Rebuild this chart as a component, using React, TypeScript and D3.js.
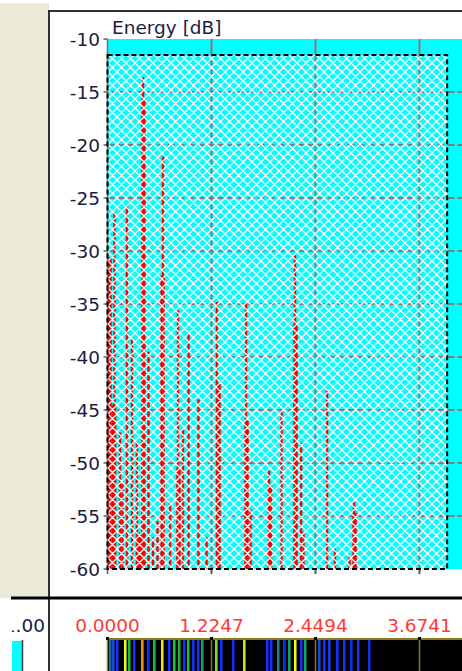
import React from "react";
import * as d3 from "d3";

// axis ticks
const yTickValues = [-10, -15, -20, -25, -30, -35, -40, -45, -50, -55, -60];
const xTickValues = [0, 1.2247, 2.4494, 3.6741];
const xTickLabels = ["0.0000", "1.2247", "2.4494", "3.6741"];

// narrow (tonal) peaks
const tonalFreq = [0.082, 0.147, 0.177, 0.23, 0.289, 0.347, 0.418, 0.483, 0.536, 0.589, 0.654, 0.736, 0.83, 0.889, 0.954, 1.072, 1.166, 1.289, 1.631, 1.684, 1.902, 2.049, 2.208, 2.279, 2.308, 2.585, 2.679, 2.85, 2.903];
const tonalDb = [-26.4, -47.1, -52.0, -25.7, -38.3, -48.0, -13.6, -39.5, -57.0, -55.5, -21.1, -53.7, -35.6, -46.9, -37.7, -44.0, -57.0, -34.8, -34.8, -54.4, -50.7, -45.1, -30.4, -48.1, -56.5, -43.1, -58.1, -58.8, -53.7];

// broad peaks
const broadFreq = [0.024, 0.077, 0.377, 0.424, 0.648, 0.836, 1.307, 1.637, 1.914, 2.214, 2.909];
const broadDb = [-30.6, -44.5, -56.6, -15.6, -32.3, -50.5, -42.5, -46.0, -52.1, -36.9, -54.7];

// spectrogram strip (position, level 0..1)
const specFreq = [0.018, 0.053, 0.1, 0.194, 0.241, 0.3, 0.395, 0.465, 0.536, 0.63, 0.712, 0.771, 0.83, 0.889, 0.936, 0.995, 1.054, 1.101, 1.266, 1.325, 1.466, 1.596, 1.866, 1.913, 1.996, 2.067, 2.126, 2.196, 2.267, 2.314, 2.479, 2.538, 2.597, 2.691, 2.773, 2.856, 2.938, 3.067];
const specLevel = [0.4, 0.35, 0.3, 0.75, 0.55, 0.3, 0.9, 0.3, 0.55, 0.78, 0.3, 0.55, 0.52, 0.3, 0.55, 0.3, 0.3, 0.5, 0.65, 0.3, 0.28, 0.7, 0.3, 0.3, 0.45, 0.3, 0.5, 0.75, 0.3, 0.5, 0.35, 0.3, 0.32, 0.3, 0.3, 0.28, 0.3, 0.28];

export default function App() {
  const W = 462;
  const H = 671;
  const x = d3.scaleLinear().domain([0, 3.6741]).range([107.5, 419.5]);
  const y = d3.scaleLinear().domain([-60, -10]).range([569, 39]);
  const plotLeft = x(0);
  const plotRight = W;
  const plotTop = y(-10);
  const plotBottom = y(-60);
  const hatchRight = x(4.0);
  const hatchTop = y(-11.5);
  const font = "'DejaVu Sans', Tahoma, Verdana, sans-serif";
  const fs = 18.5;
  const specColor = d3
    .scaleLinear<string>()
    .domain([0, 0.3, 0.55, 0.75, 1])
    .range(["#000000", "#1530ff", "#18c040", "#e8ff20", "#ff4a00"]);
  const binW = 0.03;
  const specTop = 640;

  const tonal = tonalFreq.map((f, i) => ({ f, v: tonalDb[i] }));
  const broad = broadFreq.map((f, i) => ({ f, v: broadDb[i] }));
  const spec = specFreq.map((f, i) => ({ f, l: specLevel[i] }));

  return (
    <svg
      width={W}
      height={H}
      style={{ position: "absolute", left: 0, top: 0, display: "block" }}
      fontFamily={font}
    >
      <defs>
        <pattern id="hatch" patternUnits="userSpaceOnUse" width={9} height={9}>
          <path
            d="M0,0 L9,9 M9,0 L0,9 M-2,7 L2,11 M7,-2 L11,2 M-2,2 L2,-2 M7,11 L11,7"
            stroke="#ffffff"
            strokeWidth={1.25}
          />
        </pattern>
        <clipPath id="leftClip">
          <rect x={12} y={600} width={37} height={71} />
        </clipPath>
      </defs>

      <rect x={0} y={0} width={W} height={H} fill="#ffffff" />
      <rect x={0} y={3} width={49} height={595} fill="#ECE9D8" />

      {/* plot background */}
      <rect x={plotLeft} y={plotTop} width={plotRight - plotLeft} height={plotBottom - plotTop} fill="#00FFFF" />

      {/* grid */}
      {yTickValues
        .filter((v) => v !== -10 && v !== -60)
        .map((v) => (
          <line key={"gy" + v} x1={plotLeft} x2={plotRight} y1={y(v)} y2={y(v)} stroke="#808080" strokeWidth={2} strokeDasharray="7,3" />
        ))}
      {xTickValues
        .filter((v) => v !== 0)
        .map((v) => (
          <line key={"gx" + v} x1={x(v)} x2={x(v)} y1={plotTop} y2={plotBottom + 5} stroke="#808080" strokeWidth={2} />
        ))}

      {/* peaks */}
      {broad.map((d, i) => (
        <line key={"b" + i} x1={x(d.f)} x2={x(d.f)} y1={y(-60)} y2={y(d.v)} stroke="#ff0000" strokeWidth={4.5} />
      ))}
      {tonal.map((d, i) => (
        <line key={"t" + i} x1={x(d.f)} x2={x(d.f)} y1={y(-60)} y2={y(d.v)} stroke="#ff0000" strokeWidth={2.4} />
      ))}

      {/* hatch overlay */}
      <rect x={plotLeft} y={hatchTop} width={hatchRight - plotLeft} height={plotBottom - hatchTop} fill="url(#hatch)" />

      {/* y axis */}
      <line x1={plotLeft} x2={plotLeft} y1={plotTop} y2={plotBottom} stroke="#707070" strokeWidth={1.5} />
      {yTickValues.map((v) => (
        <g key={"yt" + v}>
          <line x1={plotLeft - 4} x2={plotLeft} y1={y(v)} y2={y(v)} stroke="#606060" strokeWidth={1.5} />
          <text x={100} y={y(v)} dy="0.36em" textAnchor="end" fontSize={fs} fill="#1c1c3c">
            {v}
          </text>
        </g>
      ))}
      {xTickValues.map((v) => (
        <line key={"xt" + v} x1={x(v)} x2={x(v)} y1={plotBottom} y2={plotBottom + 5} stroke="#606060" strokeWidth={1.5} />
      ))}

      {/* dashed analysis rectangle */}
      <rect
        x={plotLeft}
        y={hatchTop}
        width={hatchRight - plotLeft}
        height={plotBottom - hatchTop}
        fill="none"
        stroke="#000000"
        strokeWidth={2}
        strokeDasharray="5,3"
      />

      <text x={112} y={34} fontSize={fs} fill="#1c1c3c">
        Energy [dB]
      </text>

      {/* frame */}
      <line x1={49} x2={49} y1={10} y2={H} stroke="#303030" strokeWidth={2} />
      <line x1={48} x2={W} y1={11} y2={11} stroke="#303030" strokeWidth={2} />
      <line x1={11} x2={W} y1={598} y2={598} stroke="#000000" strokeWidth={3} />

      {/* lower panel */}
      <g clipPath="url(#leftClip)">
        <text x={45} y={632} textAnchor="end" fontSize={fs} fill="#1c1c3c">
          1.00
        </text>
      </g>
      <rect x={12} y={641} width={10} height={30} fill="#00FFFF" />
      <line x1={22.5} x2={22.5} y1={640} y2={H} stroke="#404040" strokeWidth={1.5} />

      {xTickValues.map((v, i) => (
        <text key={"xl" + v} x={x(v)} y={632} textAnchor="middle" fontSize={fs} fill="#ff3838">
          {xTickLabels[i]}
        </text>
      ))}

      <rect x={plotLeft} y={specTop} width={W - plotLeft} height={H - specTop} fill="#000000" />
      {spec.map((d, i) => (
        <rect
          key={"s" + i}
          x={x(d.f)}
          y={specTop}
          width={x(d.f + binW) - x(d.f)}
          height={H - specTop}
          fill={specColor(d.l)}
        />
      ))}
      <line x1={plotLeft} x2={W} y1={specTop - 1} y2={specTop - 1} stroke="#8a7a18" strokeWidth={2} />
      {xTickValues
        .filter((v) => v !== 0)
        .map((v) => (
          <line key={"sv" + v} x1={x(v)} x2={x(v)} y1={specTop} y2={H} stroke="#8a7a18" strokeWidth={1.5} />
        ))}
      <line x1={plotLeft} x2={plotLeft} y1={specTop - 2} y2={H} stroke="#8a7a18" strokeWidth={1.5} />
      {xTickValues.map((v) => (
        <rect key={"sd" + v} x={x(v) - 1.5} y={specTop - 3} width={3} height={3} fill="#000000" />
      ))}
    </svg>
  );
}
